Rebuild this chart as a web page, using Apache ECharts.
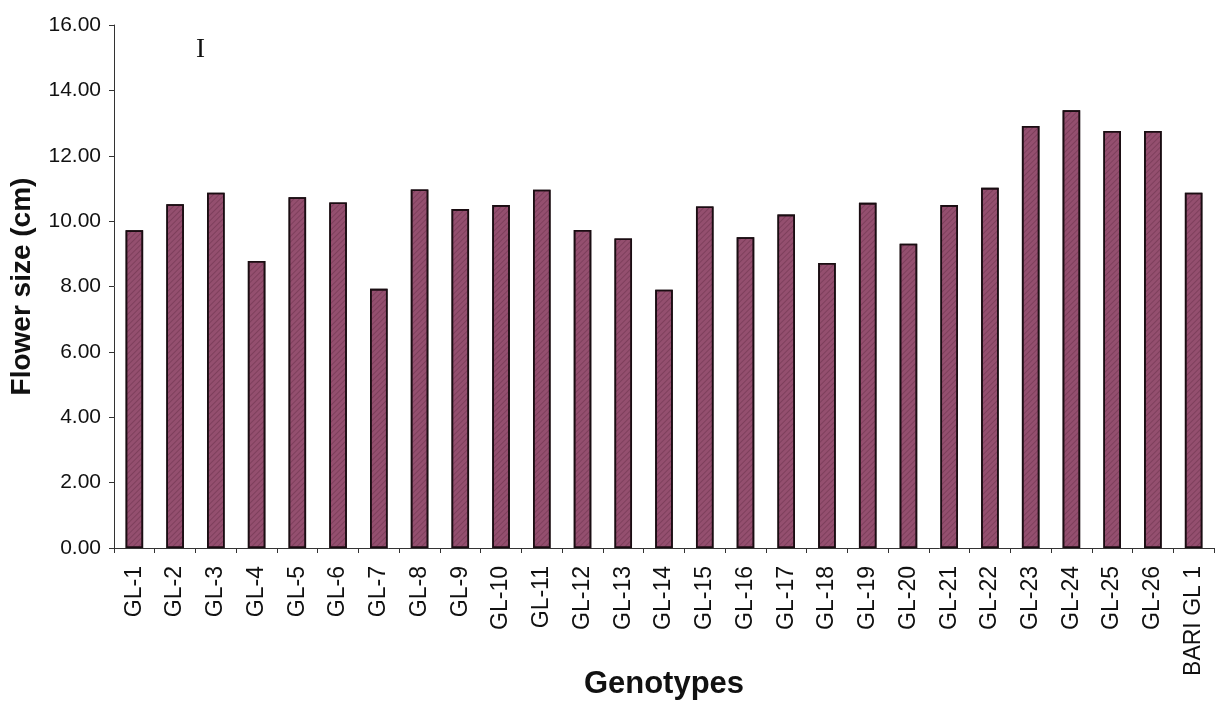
<!DOCTYPE html>
<html>
<head>
<meta charset="utf-8">
<script src="https://cdn.jsdelivr.net/npm/echarts@6/dist/echarts.min.js"></script>
<style>
html,body{margin:0;padding:0;background:#fff;overflow:hidden;}
#chart{width:1224px;height:703px;}
</style>
</head>
<body>
<div id="chart"></div>
<script>
const categories = ['GL-1','GL-2','GL-3','GL-4','GL-5','GL-6','GL-7','GL-8','GL-9','GL-10','GL-11','GL-12','GL-13','GL-14','GL-15','GL-16','GL-17','GL-18','GL-19','GL-20','GL-21','GL-22','GL-23','GL-24','GL-25','GL-26','BARI GL 1'];
const flowerSize = [9.72,10.52,10.87,8.78,10.73,10.57,7.93,10.97,10.37,10.49,10.96,9.73,9.47,7.90,10.45,9.51,10.20,8.72,10.56,9.31,10.49,11.02,12.91,13.39,12.76,12.76,10.87];
const yTicks = {min: 0, max: 16, interval: 2};
const yAxisTitle = 'Flower size (cm)';
const xAxisTitle = 'Genotypes';
const panelLabel = 'I';

const chart = echarts.init(document.getElementById('chart'));
chart.setOption({
  backgroundColor: '#ffffff',
  animation: false,
  grid: {left: 114, right: 10, top: 25, bottom: 155, containLabel: false, outerBoundsMode: 'none'},
  xAxis: {
    type: 'category',
    data: categories,
    name: xAxisTitle,
    nameLocation: 'middle',
    nameGap: 121,
    nameMoveOverlap: false,
    nameTextStyle: {fontFamily: 'Liberation Sans', fontWeight: 'bold', fontSize: 31, color: '#111'},
    axisLine: {lineStyle: {color: '#333', width: 1}},
    axisTick: {show: true, length: 5, lineStyle: {color: '#333'}},
    axisLabel: {rotate: 90, margin: 18, fontFamily: 'Liberation Sans', fontSize: 23, color: '#111', interval: 0}
  },
  yAxis: {
    type: 'value',
    min: yTicks.min, max: yTicks.max, interval: yTicks.interval,
    name: yAxisTitle,
    nameLocation: 'middle',
    nameGap: 78,
    nameMoveOverlap: false,
    nameTextStyle: {fontFamily: 'Liberation Sans', fontWeight: 'bold', fontSize: 28, color: '#111'},
    axisLine: {show: true, lineStyle: {color: '#333', width: 1}},
    axisTick: {show: true, length: 5, lineStyle: {color: '#333'}},
    splitLine: {show: false},
    axisLabel: {margin: 13, fontFamily: 'Liberation Sans', fontSize: 21, color: '#111', formatter: v => v.toFixed(2)}
  },
  graphic: [{
    type: 'text', left: 196, top: 36,
    style: {text: panelLabel, font: '27px "Liberation Serif"', fill: '#111'}
  }],
  series: [{
    type: 'bar',
    data: flowerSize,
    barWidth: '43%',
    itemStyle: {
      color: '#944f6f',
      borderColor: '#1a0d12',
      borderWidth: 1.6,
      decal: {symbol: 'rect', symbolSize: 1, dashArrayX: [1, 0], dashArrayY: [1, 3], rotation: -Math.PI / 4, color: 'rgba(60,15,35,0.25)'}
    }
  }]
});
</script>
</body>
</html>
